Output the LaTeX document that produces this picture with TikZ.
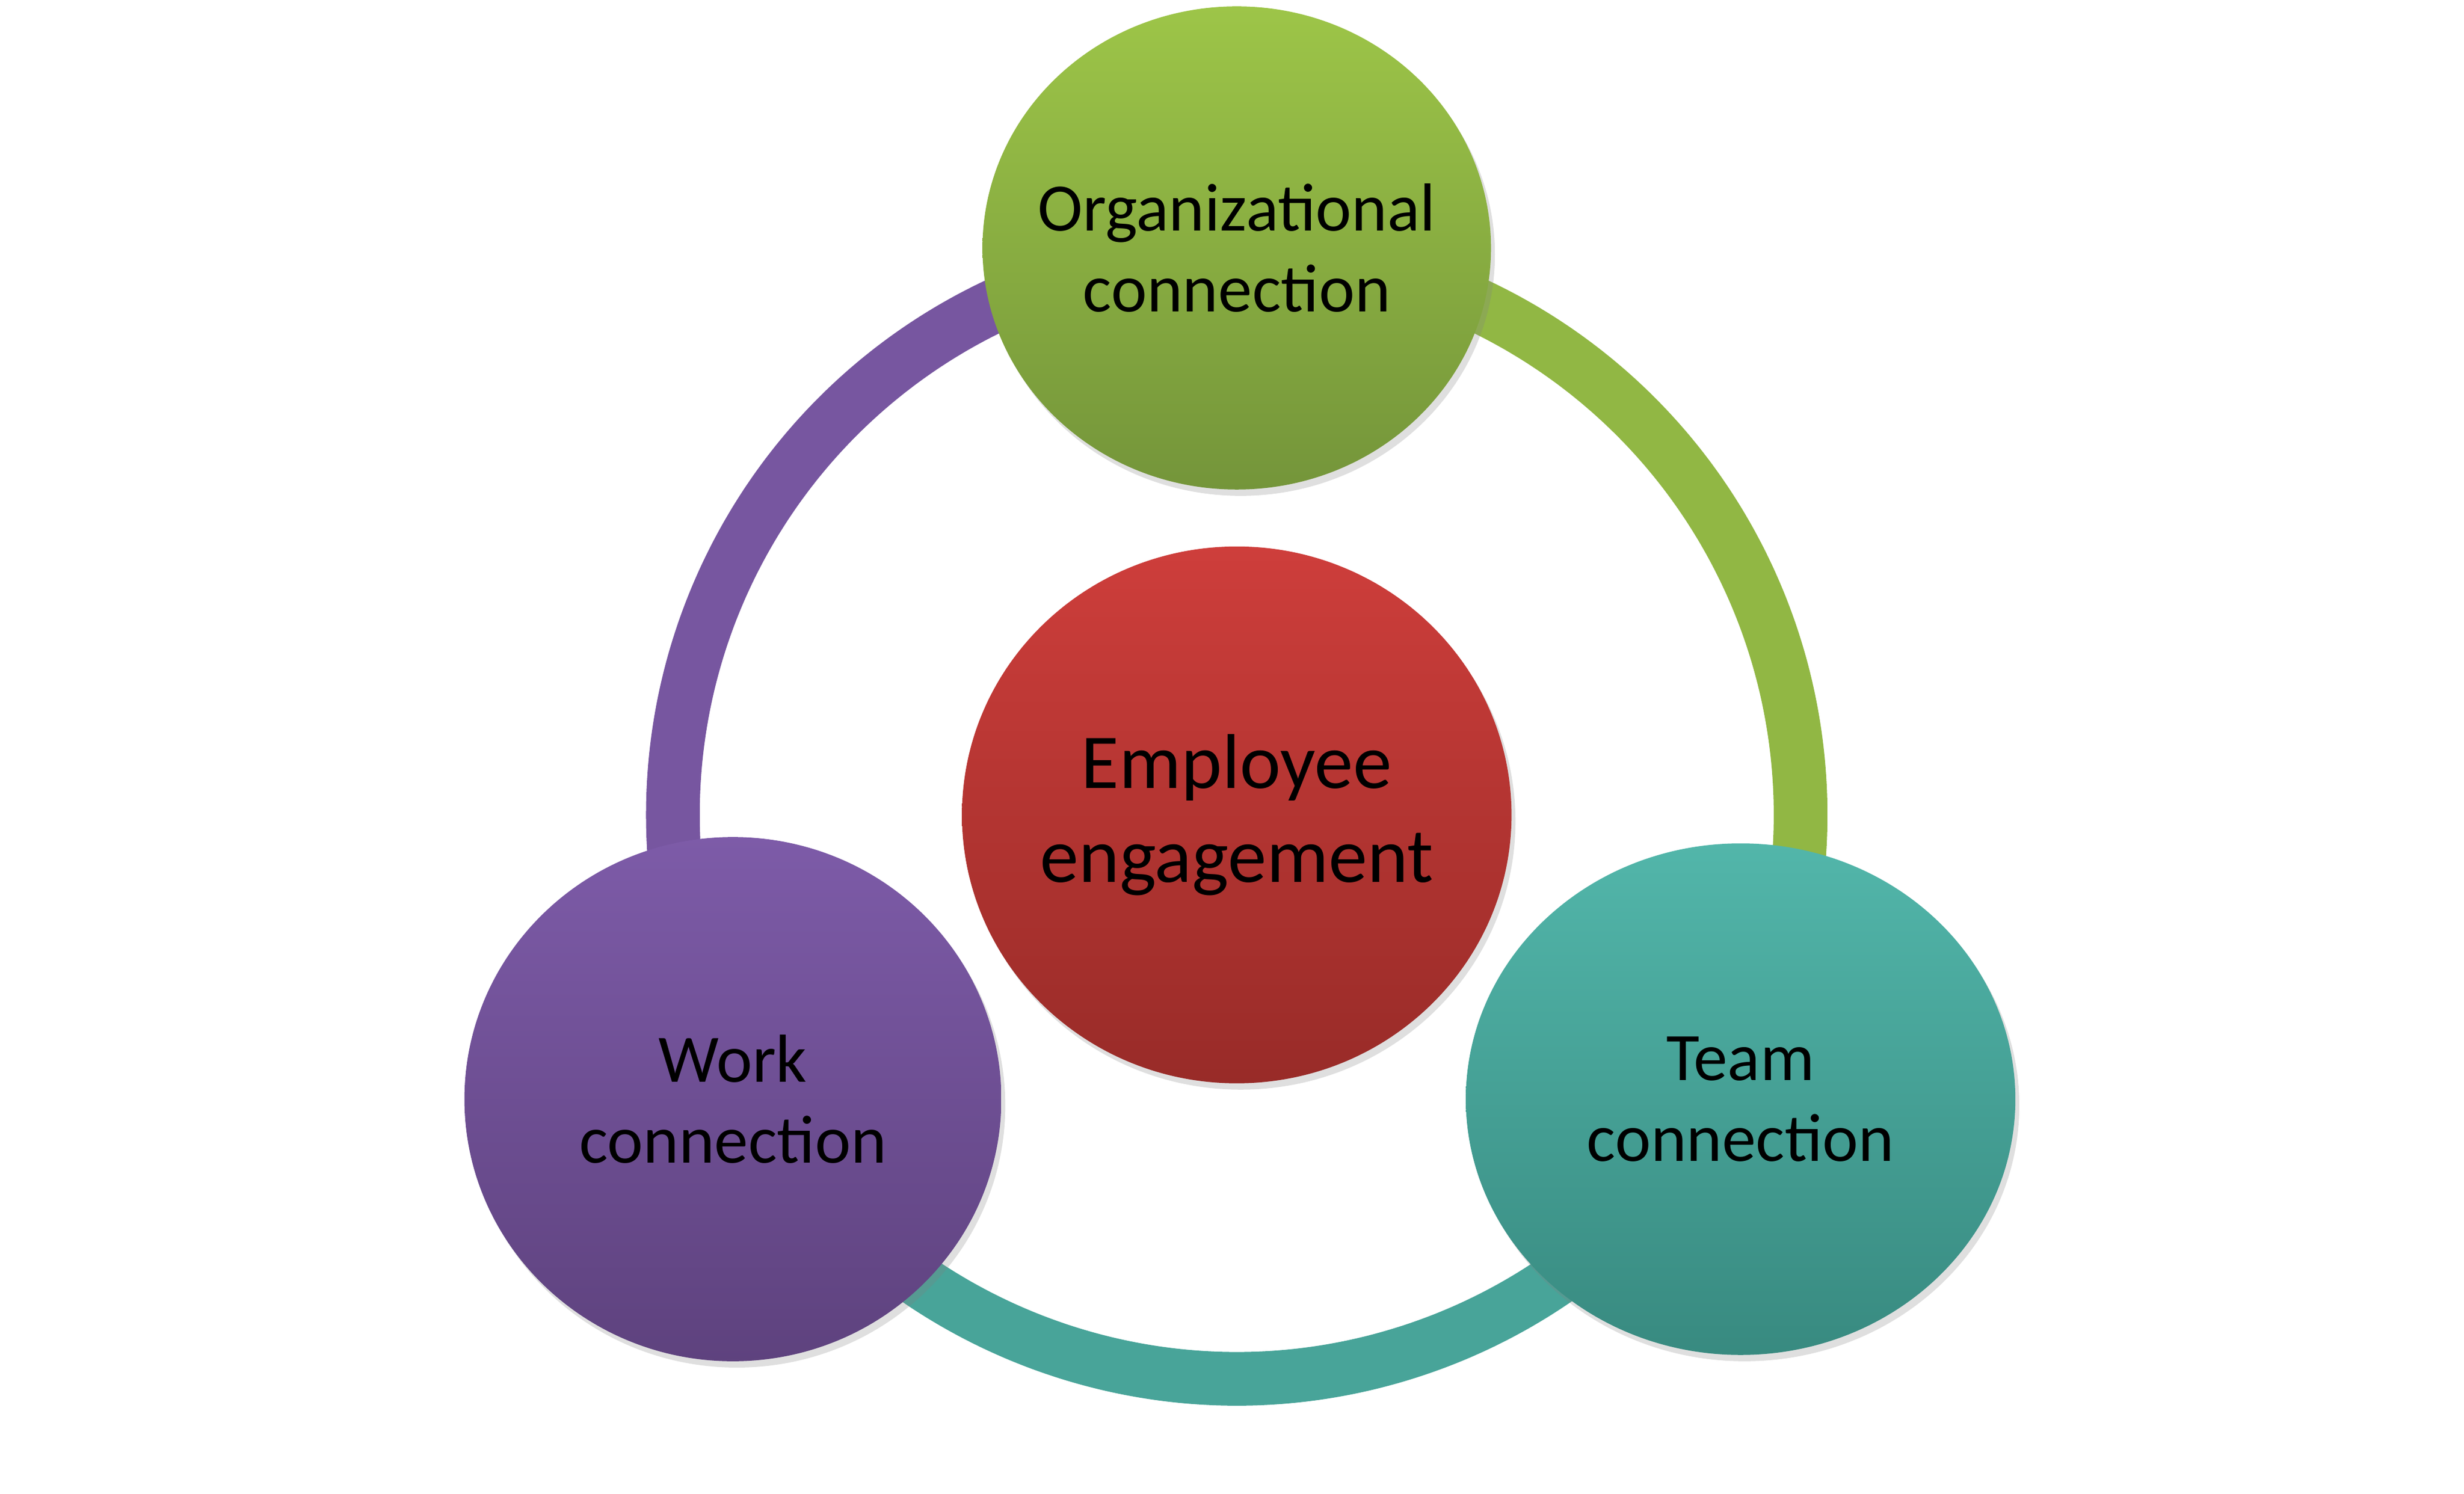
\documentclass[tikz,border=0pt]{standalone}
\usepackage{fontspec}
\setmainfont{Carlito}
\usetikzlibrary{shapes.geometric,shadows}
\definecolor{gtop}{HTML}{9DC548}\definecolor{gbot}{HTML}{74953A}
\definecolor{rtop}{HTML}{CE3E3B}\definecolor{rbot}{HTML}{982B28}
\definecolor{ptop}{HTML}{7D5BA8}\definecolor{pbot}{HTML}{5E427E}
\definecolor{ttop}{HTML}{52B6AA}\definecolor{tbot}{HTML}{388A80}
\tikzset{
 bub/.style={ellipse, inner sep=0pt, drop shadow={opacity=0.25,shadow xshift=0.5mm,shadow yshift=-0.8mm}},
 lab/.style={align=center, font=\fontsize{24.5}{29}\selectfont, text=black},
 ringseg/.style={line width=0.68cm}
}
\begin{document}
\begin{tikzpicture}[x=0.02cm,y=-0.02cm]
\useasboundingbox (0,0) rectangle (1560,946);
\coordinate (c) at (783,516);
% ring
\draw[ringseg, color=ptop!80!pbot] ([shift={(-95:357)}]c) arc[start angle=-95, end angle=-205, radius=357];
\draw[ringseg, color=gtop!70!gbot] ([shift={(-85:357)}]c) arc[start angle=-85, end angle=20, radius=357];
\draw[ringseg, color=ttop!60!tbot] ([shift={(160:357)}]c) arc[start angle=160, end angle=20, radius=357];
% bubbles
\node[bub, minimum width=6.44cm, minimum height=6.12cm, top color=gtop, bottom color=gbot] (org) at (783,157) {};
\node[bub, minimum width=6.96cm, minimum height=6.8cm, top color=rtop, bottom color=rbot] (emp) at (c) {};
\node[bub, minimum width=6.8cm, minimum height=6.64cm, top color=ptop, bottom color=pbot] (work) at (464,696) {};
\node[bub, minimum width=6.96cm, minimum height=6.48cm, top color=ttop, bottom color=tbot] (team) at (1102,696) {};
\node[lab] (orgt) at (org) {Organizational\\connection};
\node[lab, font=\fontsize{28}{34}\selectfont] (empt) at (emp) {Employee\\engagement};
\node[lab] (workt) at (work) {Work\\connection};
\node[lab] (teamt) at (team) {Team\\connection};
\end{tikzpicture}
\end{document}
